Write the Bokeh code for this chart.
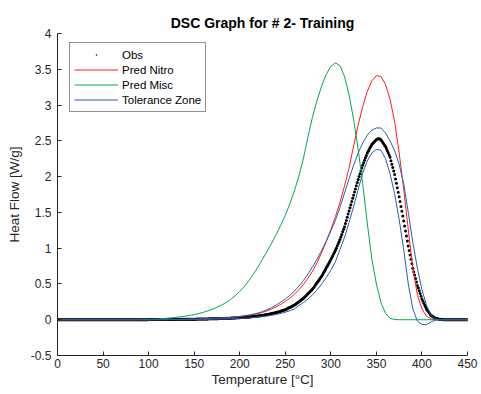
from bokeh.plotting import figure
from bokeh.models import Range1d, FixedTicker, CustomJSTickFormatter, Legend, LegendItem
from bokeh.embed import file_html
from bokeh.resources import INLINE

# ---- axis ticks -------------------------------------------------------------
x_ticks = [0, 50, 100, 150, 200, 250, 300, 350, 400, 450]
y_ticks = [-0.5, 0, 0.5, 1, 1.5, 2, 2.5, 3, 3.5, 4]

# ---- model curves, sampled every 5 degC from 0 to 450 ----------------------
pred_nitro = [
    0, 0, 0, 0, 0, 0, 0, 0, 0, 0,                                      # 0-45
    0, 0, 0, 0, 0, 0, 0, 0, 0, 0,                                      # 50-95
    0.000, 0.001, 0.001, 0.002, 0.002, 0.003, 0.003, 0.004, 0.004, 0.005,  # 100-145
    0.006, 0.008, 0.010, 0.012, 0.015, 0.018, 0.021, 0.025, 0.030, 0.036,  # 150-195
    0.043, 0.051, 0.060, 0.072, 0.086, 0.103, 0.124, 0.150, 0.180, 0.215,  # 200-245
    0.255, 0.300, 0.355, 0.420, 0.495, 0.580, 0.680, 0.800, 0.940, 1.090,  # 250-295
    1.260, 1.440, 1.640, 1.870, 2.120, 2.430, 2.720, 2.980, 3.190, 3.340,  # 300-345
    3.410, 3.400, 3.290, 3.080, 2.770, 2.330, 1.820, 1.260, 0.720, 0.350,  # 350-395
    0.150, 0.050, 0.010, 0, 0, 0, 0, 0, 0, 0,                          # 400-445
    0,                                                                 # 450
]

pred_misc = [
    0, 0, 0, 0, 0, 0, 0, 0, 0, 0,
    0, 0, 0, 0, 0, 0, 0.001, 0.002, 0.003, 0.004,
    0.006, 0.008, 0.011, 0.015, 0.020, 0.026, 0.033, 0.041, 0.050, 0.060,
    0.072, 0.086, 0.103, 0.123, 0.146, 0.173, 0.204, 0.240, 0.284, 0.336,
    0.395, 0.465, 0.545, 0.635, 0.735, 0.845, 0.955, 1.070, 1.190, 1.320,
    1.460, 1.620, 1.800, 2.010, 2.260, 2.560, 2.840, 3.070, 3.270, 3.430,
    3.540, 3.590, 3.550, 3.400, 3.140, 2.800, 2.380, 1.900, 1.350, 0.850,
    0.500, 0.240, 0.090, 0.020, 0.003, 0, 0, 0, 0, 0,
    0, 0, 0, 0, 0, 0, 0, 0, 0, 0,
    0,
]

tol_upper = [
    0, 0, 0, 0, 0, 0, 0, 0, 0, 0,
    0, 0, 0, 0, 0, 0, 0, 0, 0, 0,
    0.000, 0.001, 0.001, 0.002, 0.003, 0.004, 0.005, 0.006, 0.007, 0.008,
    0.009, 0.011, 0.013, 0.015, 0.018, 0.021, 0.025, 0.029, 0.034, 0.040,
    0.047, 0.056, 0.066, 0.078, 0.093, 0.113, 0.140, 0.170, 0.205, 0.245,
    0.290, 0.340, 0.400, 0.470, 0.550, 0.640, 0.740, 0.850, 0.970, 1.100,
    1.240, 1.390, 1.570, 1.770, 1.970, 2.160, 2.330, 2.470, 2.580, 2.650,
    2.680, 2.680, 2.610, 2.500, 2.360, 2.170, 1.900, 1.500, 1.080, 0.720,
    0.420, 0.200, 0.060, 0.010, 0, 0, 0, 0, 0, 0,
    0,
]

tol_lower = [
    0, 0, 0, 0, 0, 0, 0, 0, 0, 0,
    0, 0, 0, 0, 0, 0, 0, 0, 0, 0,
    0, 0, 0, 0, 0, 0.001, 0.001, 0.002, 0.002, 0.003,
    0.003, 0.004, 0.005, 0.006, 0.007, 0.008, 0.009, 0.011, 0.013, 0.015,
    0.018, 0.021, 0.025, 0.030, 0.036, 0.043, 0.052, 0.062, 0.074, 0.088,
    0.105, 0.125, 0.150, 0.200, 0.240, 0.290, 0.350, 0.420, 0.500, 0.590,
    0.690, 0.810, 0.980, 1.150, 1.360, 1.580, 1.820, 2.050, 2.220, 2.330,
    2.380, 2.370, 2.250, 2.040, 1.760, 1.400, 0.980, 0.500, 0.150, -0.020,
    -0.065, -0.070, -0.030, -0.005, 0, 0, 0, 0, 0, 0,
    0,
]

# ---- measured heat flow, one reading per degC from 0 to 450 ----------------
obs_flow = [
    0.000, 0.000, 0.000, 0.000, 0.000, 0.000, 0.000, 0.000, 0.000, 0.000,  # 0
    0.000, 0.000, 0.000, 0.000, 0.000, 0.000, 0.000, 0.000, 0.000, 0.000,  # 10
    0.000, 0.000, 0.000, 0.000, 0.000, 0.000, 0.000, 0.000, 0.000, 0.000,  # 20
    0.000, 0.000, 0.000, 0.000, 0.000, 0.000, 0.000, 0.000, 0.000, 0.000,  # 30
    0.000, 0.000, 0.000, 0.000, 0.000, 0.000, 0.000, 0.000, 0.000, 0.000,  # 40
    0.000, 0.000, 0.000, 0.000, 0.000, 0.000, 0.000, 0.000, 0.000, 0.000,  # 50
    0.000, 0.000, 0.000, 0.000, 0.000, 0.000, 0.000, 0.000, 0.000, 0.000,  # 60
    0.000, 0.000, 0.000, 0.000, 0.000, 0.000, 0.000, 0.000, 0.000, 0.000,  # 70
    0.000, 0.000, 0.000, 0.000, 0.000, 0.000, 0.000, 0.000, 0.000, 0.000,  # 80
    0.000, 0.000, 0.000, 0.000, 0.000, 0.000, 0.000, 0.000, 0.000, 0.000,  # 90
    0.002, 0.002, 0.002, 0.002, 0.002, 0.002, 0.002, 0.002, 0.002, 0.002,  # 100
    0.003, 0.003, 0.003, 0.003, 0.003, 0.003, 0.003, 0.003, 0.003, 0.003,  # 110
    0.004, 0.004, 0.004, 0.004, 0.004, 0.004, 0.004, 0.004, 0.004, 0.004,  # 120
    0.005, 0.005, 0.005, 0.005, 0.005, 0.005, 0.005, 0.005, 0.005, 0.005,  # 130
    0.006, 0.006, 0.007, 0.007, 0.007, 0.007, 0.008, 0.008, 0.008, 0.008,  # 140
    0.008, 0.008, 0.008, 0.009, 0.009, 0.009, 0.009, 0.010, 0.010, 0.010,  # 150
    0.010, 0.010, 0.011, 0.011, 0.011, 0.011, 0.012, 0.012, 0.012, 0.013,  # 160
    0.013, 0.013, 0.014, 0.014, 0.014, 0.015, 0.015, 0.016, 0.016, 0.017,  # 170
    0.017, 0.017, 0.018, 0.018, 0.019, 0.019, 0.020, 0.020, 0.021, 0.021,  # 180
    0.022, 0.023, 0.023, 0.024, 0.025, 0.025, 0.026, 0.027, 0.027, 0.028,  # 190
    0.029, 0.030, 0.031, 0.032, 0.033, 0.033, 0.034, 0.035, 0.036, 0.037,  # 200
    0.038, 0.039, 0.041, 0.042, 0.044, 0.045, 0.046, 0.048, 0.049, 0.051,  # 210
    0.052, 0.054, 0.056, 0.058, 0.060, 0.062, 0.064, 0.066, 0.068, 0.070,  # 220
    0.072, 0.075, 0.077, 0.080, 0.083, 0.086, 0.089, 0.091, 0.094, 0.097,  # 230
    0.100, 0.104, 0.108, 0.112, 0.116, 0.120, 0.124, 0.128, 0.132, 0.136,  # 240
    0.140, 0.146, 0.152, 0.159, 0.166, 0.172, 0.179, 0.185, 0.192, 0.198,  # 250
    0.205, 0.214, 0.223, 0.233, 0.243, 0.252, 0.262, 0.272, 0.281, 0.291,  # 260
    0.300, 0.313, 0.326, 0.339, 0.352, 0.365, 0.378, 0.391, 0.404, 0.417,  # 270
    0.430, 0.448, 0.466, 0.484, 0.502, 0.520, 0.538, 0.556, 0.574, 0.592,  # 280
    0.610, 0.633, 0.656, 0.679, 0.702, 0.725, 0.748, 0.771, 0.794, 0.817,  # 290
    0.840, 0.866, 0.892, 0.918, 0.944, 0.970, 1.000, 1.030, 1.060, 1.090,  # 300
    1.120, 1.156, 1.192, 1.228, 1.264, 1.300, 1.344, 1.388, 1.432, 1.476,  # 310
    1.520, 1.564, 1.608, 1.652, 1.696, 1.740, 1.784, 1.828, 1.872, 1.916,  # 320
    1.960, 2.000, 2.040, 2.080, 2.120, 2.160, 2.194, 2.228, 2.262, 2.296,  # 330
    2.330, 2.354, 2.378, 2.402, 2.426, 2.450, 2.464, 2.478, 2.492, 2.506,  # 340
    2.520, 2.526, 2.530, 2.529, 2.524, 2.510, 2.496, 2.478, 2.460, 2.440,  # 350
    2.420, 2.392, 2.362, 2.332, 2.302, 2.270, 2.222, 2.174, 2.126, 2.078,  # 360
    2.030, 1.968, 1.906, 1.844, 1.782, 1.720, 1.652, 1.584, 1.516, 1.448,  # 370
    1.380, 1.310, 1.240, 1.170, 1.100, 1.030, 0.968, 0.906, 0.844, 0.782,  # 380
    0.720, 0.672, 0.624, 0.576, 0.528, 0.480, 0.442, 0.404, 0.366, 0.328,  # 390
    0.290, 0.262, 0.234, 0.206, 0.178, 0.150, 0.132, 0.114, 0.096, 0.078,  # 400
    0.060, 0.052, 0.044, 0.036, 0.028, 0.020, 0.017, 0.014, 0.011, 0.008,  # 410
    0.005, 0.004, 0.003, 0.002, 0.001, 0.000, 0.000, 0.000, 0.000, 0.000,  # 420
    0.000, 0.000, 0.000, 0.000, 0.000, 0.000, 0.000, 0.000, 0.000, 0.000,  # 430
    0.000, 0.000, 0.000, 0.000, 0.000, 0.000, 0.000, 0.000, 0.000, 0.000,  # 440
    0.000,                                                                 # 450
]

obs_temp = list(range(len(obs_flow)))
line_temp = [5 * i for i in range(len(pred_nitro))]

FONT = "Liberation Sans"
INK = "#262626"

p = figure(
    width=481, height=394,
    output_backend="svg", toolbar_location=None,
    x_range=Range1d(0, 450), y_range=Range1d(-0.5, 4),
    min_border_left=57, min_border_right=14,
    min_border_top=33, min_border_bottom=39,
    title="DSC Graph for # 2- Training",
)
p.outline_line_color = None
p.xgrid.visible = False
p.ygrid.visible = False
p.background_fill_color = "white"
p.border_fill_color = "white"

p.title.align = "center"
p.title.text_font = FONT
p.title.text_font_size = "14px"
p.title.text_font_style = "bold"
p.title.text_color = "#000000"
p.title.standoff = 6

for ax in (p.xaxis[0], p.yaxis[0]):
    ax.axis_line_color = INK
    ax.axis_line_width = 1
    ax.major_tick_line_color = INK
    ax.major_tick_in = 4
    ax.major_tick_out = 0
    ax.minor_tick_line_color = None
    ax.major_label_text_font = FONT
    ax.major_label_text_font_size = "12px"
    ax.major_label_text_color = INK
    ax.axis_label_text_font = FONT
    ax.axis_label_text_font_size = "13.5px"
    ax.axis_label_text_font_style = "normal"
    ax.axis_label_text_color = INK

p.xaxis.ticker = FixedTicker(ticks=x_ticks)
p.yaxis.ticker = FixedTicker(ticks=y_ticks)
p.yaxis.formatter = CustomJSTickFormatter(code="return String(Math.round(tick * 10) / 10);")
p.xaxis.axis_label = "Temperature [°C]"
p.yaxis.axis_label = "Heat Flow [W/g]"
p.xaxis.major_label_standoff = 3
p.yaxis.major_label_standoff = 6
p.xaxis.axis_label_standoff = 1
p.yaxis.axis_label_standoff = 6

# measured points as small dots (the "dot" marker is a quarter of its size)
obs_r = p.scatter(obs_temp, obs_flow, marker="dot", size=12,
                  line_color="black", fill_color="black")
nitro_r = p.line(line_temp, pred_nitro, line_color="#ff1a1a", line_width=1)
misc_r = p.line(line_temp, pred_misc, line_color="#00a84f", line_width=1)
upper_r = p.line(line_temp, tol_upper, line_color="#2a5db0", line_width=1)
lower_r = p.line(line_temp, tol_lower, line_color="#2a5db0", line_width=1)

legend = Legend(items=[
    LegendItem(label="Obs", renderers=[obs_r]),
    LegendItem(label="Pred Nitro", renderers=[nitro_r]),
    LegendItem(label="Pred Misc", renderers=[misc_r]),
    LegendItem(label="Tolerance Zone", renderers=[upper_r]),
])
legend.location = (12, 243)
legend.padding = 4
legend.spacing = 0
legend.margin = 0
legend.glyph_width = 44
legend.glyph_height = 15
legend.label_height = 15
legend.label_standoff = 4
legend.label_text_font = FONT
legend.label_text_font_size = "11.5px"
legend.label_text_color = "#000000"
legend.border_line_color = INK
legend.border_line_width = 1
legend.background_fill_color = "white"
legend.background_fill_alpha = 1.0
p.add_layout(legend)

open("out.html", "w").write(file_html(p, INLINE))
